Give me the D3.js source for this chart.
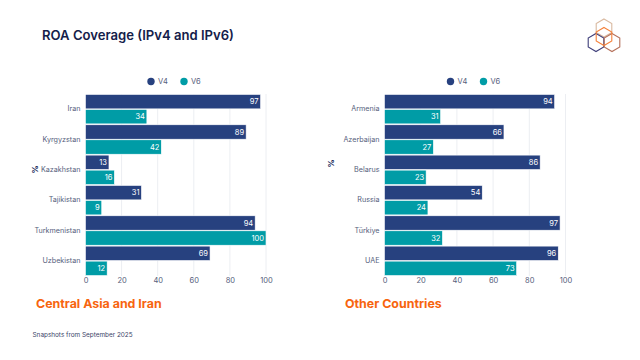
<!DOCTYPE html>
<html>
<head>
<meta charset="utf-8">
<script src="https://cdn.jsdelivr.net/npm/d3@7"></script>
<style>
  html, body { margin: 0; padding: 0; background: #fff; }
  svg { display: block; }
  text { font-family: "Inter", "Noto Sans", sans-serif; }
</style>
</head>
<body>
<div id="chart"></div>
<script>
const seriesNames = ["V4", "V6"];
const seriesColors = ["#27417f", "#009ca6"];
const xTicks = [0, 20, 40, 60, 80, 100];

const leftCountries = ["Iran", "Kyrgyzstan", "Kazakhstan", "Tajikistan", "Turkmenistan", "Uzbekistan"];
const leftV4 = [97, 89, 13, 31, 94, 69];
const leftV6 = [34, 42, 16, 9, 100, 12];

const rightCountries = ["Armenia", "Azerbaijan", "Belarus", "Russia", "Türkiye", "UAE"];
const rightV4 = [94, 66, 86, 54, 97, 96];
const rightV6 = [31, 27, 23, 24, 32, 73];

const svg = d3.select("#chart").append("svg")
    .attr("width", 640)
    .attr("height", 360);

// Title and footnote
svg.append("text")
    .attr("x", 42).attr("y", 39.5)
    .attr("font-size", 13.1).attr("font-weight", 600)
    .attr("fill", "#14204a")
    .text("ROA Coverage (IPv4 and IPv6)");

svg.append("text")
    .attr("x", 32.5).attr("y", 337)
    .attr("font-size", 6.4)
    .attr("fill", "#3b4468")
    .text("Snapshots from September 2025");

function drawPanel(opts) {
    const x = d3.scaleLinear().domain([0, 100]).range([opts.x0, opts.x1]);
    const y = d3.scaleBand().domain(opts.countries).range([94, 276]);
    const inner = d3.scaleBand().domain(seriesNames).range([0, y.bandwidth()]).paddingInner(0.04).paddingOuter(0.03);
    const g = svg.append("g");

    // Grid lines
    g.selectAll(".grid")
        .data(xTicks)
        .enter()
        .append("line")
        .attr("class", "grid")
        .attr("x1", d => x(d)).attr("x2", d => x(d))
        .attr("y1", 94).attr("y2", 276)
        .attr("stroke", "#eceef2")
        .attr("stroke-width", 1);

    // X axis
    const xAxis = g.append("g")
        .attr("transform", "translate(0,276)")
        .call(d3.axisBottom(x).tickValues(xTicks).tickSize(0).tickPadding(2));
    xAxis.select(".domain").remove();
    xAxis.selectAll("text")
        .attr("font-size", 7.5)
        .attr("fill", "#565e7c")
        .style("font-family", '"Inter", "Noto Sans", sans-serif');

    // Y axis
    const yAxis = g.append("g")
        .attr("transform", `translate(${opts.x0},0)`)
        .call(d3.axisLeft(y).tickSize(0).tickPadding(5));
    yAxis.select(".domain").remove();
    yAxis.selectAll("text")
        .attr("font-size", 7.2)
        .attr("fill", "#565e7c")
        .style("font-family", '"Inter", "Noto Sans", sans-serif');

    // Bars and value labels
    seriesNames.forEach((name, i) => {
        const values = i === 0 ? opts.v4 : opts.v6;
        const rows = opts.countries.map((c, j) => ({country: c, value: values[j]}));

        g.selectAll(".bar-" + name)
            .data(rows)
            .enter()
            .append("rect")
            .attr("class", "bar-" + name)
            .attr("x", x(0))
            .attr("y", d => y(d.country) + inner(name))
            .attr("width", d => x(d.value) - x(0))
            .attr("height", inner.bandwidth())
            .attr("fill", seriesColors[i])
            .attr("stroke", "#fff")
            .attr("stroke-width", 0.6);

        g.selectAll(".label-" + name)
            .data(rows)
            .enter()
            .append("text")
            .attr("class", "label-" + name)
            .attr("x", d => x(d.value) - 2)
            .attr("y", d => y(d.country) + inner(name) + inner.bandwidth() / 2)
            .attr("dy", "0.35em")
            .attr("text-anchor", "end")
            .attr("font-size", 7.5)
            .attr("fill", "#fff")
            .text(d => d.value);
    });

    // Legend
    seriesNames.forEach((name, i) => {
        const lx = opts.legendX + i * 33;
        g.append("circle")
            .attr("cx", lx).attr("cy", 81.5).attr("r", 3.7)
            .attr("fill", seriesColors[i]);
        g.append("text")
            .attr("x", lx + 7).attr("y", 81.5)
            .attr("dy", "0.35em")
            .attr("font-size", 7.5)
            .attr("fill", "#565e7c")
            .text(name);
    });

    // Rotated unit label
    g.append("text")
        .attr("transform", `translate(${opts.unitX},${opts.unitY}) rotate(-90)`)
        .attr("text-anchor", "middle")
        .attr("dy", "0.35em")
        .attr("font-size", 8).attr("font-weight", 700)
        .attr("fill", "#27315f")
        .text("%");

    // Panel heading
    g.append("text")
        .attr("x", opts.headingX).attr("y", 308)
        .attr("font-size", 12.4).attr("font-weight", 700)
        .attr("fill", "#f7650f")
        .text(opts.heading);
}

drawPanel({
    countries: leftCountries, v4: leftV4, v6: leftV6,
    x0: 85.5, x1: 266, legendX: 151, unitX: 35.5, unitY: 169.5,
    headingX: 36, heading: "Central Asia and Iran"
});

drawPanel({
    countries: rightCountries, v4: rightV4, v6: rightV6,
    x0: 384.5, x1: 565.5, legendX: 450.5, unitX: 331.5, unitY: 163.5,
    headingX: 345, heading: "Other Countries"
});

// Logo: overlapping hexagons
const hexCenters = [
    {cx: 604, cy: 28, color: "#d9b9a0"},
    {cx: 596, cy: 42.5, color: "#3f3f7a"},
    {cx: 612, cy: 42.5, color: "#b5705a"},
    {cx: 604, cy: 36.5, color: "#f5813a"}
];
const hexPath = d => d3.line()(d3.range(6).map(k => {
    const a = Math.PI / 3 * k - Math.PI / 2;
    return [d.cx + 9 * Math.cos(a), d.cy + 9 * Math.sin(a)];
})) + "Z";
const logo = svg.append("g");
logo.selectAll("path")
    .data(hexCenters)
    .enter()
    .append("path")
    .attr("d", hexPath)
    .attr("fill", "none")
    .attr("stroke", d => d.color)
    .attr("stroke-width", 1.1);
</script>
</body>
</html>
